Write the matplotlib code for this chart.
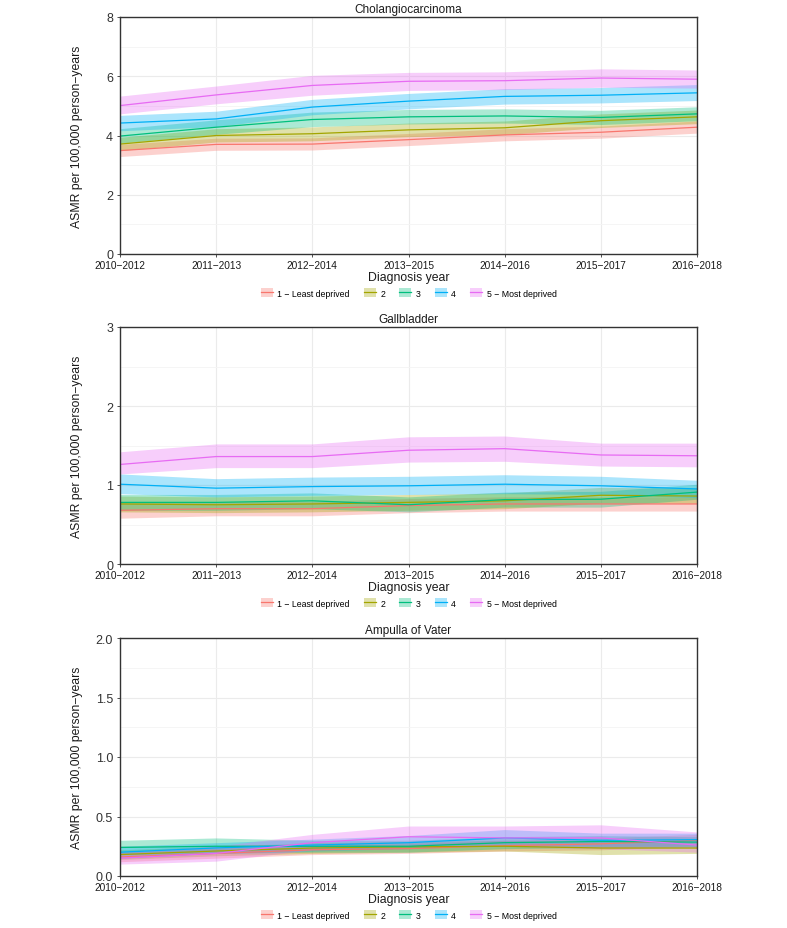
import matplotlib
matplotlib.use("Agg")
import matplotlib.pyplot as plt
from matplotlib.patches import Patch
from matplotlib.lines import Line2D
import numpy as np

plt.rcParams['font.family'] = ['Liberation Sans', 'DejaVu Sans']

periods = ["2010\u22122012", "2011\u22122013", "2012\u22122014", "2013\u22122015",
           "2014\u22122016", "2015\u22122017", "2016\u22122018"]
groups = ["1 \u2212 Least deprived", "2", "3", "4", "5 \u2212 Most deprived"]
colors = ["#F8766D", "#A3A500", "#00BF7D", "#00B0F6", "#E76BF3"]

# Cholangiocarcinoma
chol_mid = [
    [3.49, 3.70, 3.71, 3.86, 4.02, 4.11, 4.28],
    [3.71, 4.00, 4.06, 4.19, 4.26, 4.50, 4.63],
    [3.98, 4.28, 4.54, 4.63, 4.66, 4.61, 4.73],
    [4.42, 4.56, 4.96, 5.16, 5.32, 5.36, 5.44],
    [5.01, 5.37, 5.69, 5.83, 5.85, 5.94, 5.90],
]
chol_lo = [
    [3.29, 3.50, 3.51, 3.66, 3.82, 3.91, 4.08],
    [3.49, 3.78, 3.82, 3.96, 4.03, 4.27, 4.40],
    [3.74, 4.04, 4.30, 4.39, 4.42, 4.37, 4.50],
    [4.16, 4.30, 4.70, 4.90, 5.06, 5.10, 5.18],
    [4.73, 5.07, 5.36, 5.52, 5.55, 5.63, 5.60],
]
chol_hi = [
    [3.70, 3.91, 3.92, 4.07, 4.23, 4.32, 4.49],
    [3.94, 4.23, 4.29, 4.42, 4.49, 4.73, 4.86],
    [4.23, 4.53, 4.79, 4.88, 4.90, 4.85, 4.97],
    [4.68, 4.82, 5.22, 5.42, 5.58, 5.62, 5.72],
    [5.33, 5.67, 6.03, 6.13, 6.15, 6.25, 6.21],
]

# Gallbladder
gb_mid = [
    [0.68, 0.70, 0.70, 0.74, 0.76, 0.76, 0.76],
    [0.76, 0.75, 0.76, 0.78, 0.80, 0.87, 0.86],
    [0.78, 0.78, 0.80, 0.75, 0.815, 0.82, 0.91],
    [1.01, 0.96, 0.98, 0.99, 1.01, 0.99, 0.95],
    [1.26, 1.36, 1.36, 1.44, 1.46, 1.38, 1.37],
]
gb_lo = [
    [0.58, 0.61, 0.61, 0.65, 0.67, 0.67, 0.67],
    [0.66, 0.65, 0.66, 0.68, 0.70, 0.77, 0.77],
    [0.68, 0.68, 0.70, 0.66, 0.72, 0.72, 0.82],
    [0.89, 0.85, 0.87, 0.88, 0.89, 0.88, 0.84],
    [1.14, 1.22, 1.22, 1.29, 1.30, 1.24, 1.23],
]
gb_hi = [
    [0.78, 0.79, 0.79, 0.83, 0.85, 0.85, 0.85],
    [0.86, 0.85, 0.86, 0.88, 0.90, 0.97, 0.96],
    [0.88, 0.88, 0.90, 0.85, 0.91, 0.92, 1.01],
    [1.14, 1.08, 1.10, 1.11, 1.13, 1.11, 1.06],
    [1.42, 1.52, 1.52, 1.61, 1.62, 1.53, 1.53],
]

# Ampulla of Vater
av_mid = [
    [0.16, 0.19, 0.22, 0.23, 0.255, 0.27, 0.30],
    [0.18, 0.21, 0.235, 0.245, 0.25, 0.235, 0.235],
    [0.24, 0.25, 0.25, 0.25, 0.28, 0.29, 0.285],
    [0.20, 0.236, 0.26, 0.28, 0.32, 0.30, 0.305],
    [0.15, 0.19, 0.28, 0.33, 0.32, 0.32, 0.26],
]
av_lo = [
    [0.12, 0.15, 0.18, 0.19, 0.21, 0.22, 0.25],
    [0.14, 0.17, 0.19, 0.20, 0.21, 0.18, 0.19],
    [0.18, 0.19, 0.20, 0.20, 0.23, 0.24, 0.24],
    [0.15, 0.19, 0.21, 0.23, 0.26, 0.25, 0.25],
    [0.10, 0.125, 0.22, 0.25, 0.25, 0.23, 0.20],
]
av_hi = [
    [0.20, 0.23, 0.26, 0.27, 0.30, 0.32, 0.35],
    [0.22, 0.25, 0.28, 0.29, 0.30, 0.29, 0.29],
    [0.30, 0.32, 0.30, 0.30, 0.33, 0.34, 0.33],
    [0.25, 0.28, 0.31, 0.34, 0.39, 0.36, 0.36],
    [0.20, 0.25, 0.35, 0.42, 0.42, 0.43, 0.37],
]

panels = [
    ("Cholangiocarcinoma", chol_mid, chol_lo, chol_hi, 8, [0, 2, 4, 6, 8], ["0", "2", "4", "6", "8"], 1.0),
    ("Gallbladder", gb_mid, gb_lo, gb_hi, 3, [0, 1, 2, 3], ["0", "1", "2", "3"], 0.5),
    ("Ampulla of Vater", av_mid, av_lo, av_hi, 2, [0, 0.5, 1.0, 1.5, 2.0], ["0.0", "0.5", "1.0", "1.5", "2.0"], 0.25),
]

W, H = 787, 929
fig = plt.figure(figsize=(W / 100, H / 100), dpi=100)
left, right = 120 / W, 697 / W
tops = [18, 328, 639]
bots = [255, 565, 877]

x = np.arange(len(periods))
for i, (title, mid, lo, hi, ymax, yt, ytl, minor) in enumerate(panels):
    ax = fig.add_axes([left, 1 - bots[i] / H, right - left, (bots[i] - tops[i]) / H])
    ax.set_xlim(0, len(periods) - 1)
    ax.set_ylim(0, ymax)
    # grid
    for v in x:
        ax.axvline(v, color="#EBEBEB", lw=0.8, zorder=0)
    for v in yt:
        ax.axhline(v, color="#EBEBEB", lw=0.8, zorder=0)
    for v in np.arange(minor, ymax, minor * 2):
        ax.axhline(v, color="#F4F4F4", lw=0.6, zorder=0)
    for g in range(len(groups)):
        ax.fill_between(x, lo[g], hi[g], color=colors[g], alpha=0.33, lw=0, zorder=1)
    for g in range(len(groups)):
        ax.plot(x, mid[g], color=colors[g], lw=0.9, zorder=2)
    ax.set_xticks(x)
    ax.set_xticklabels(periods, fontsize=7.3, color="#1A1A1A")
    ax.set_yticks(yt)
    ax.set_yticklabels(ytl, fontsize=9, color="#333333")
    ax.tick_params(axis="x", length=2.5, width=0.6, color="#333333", pad=2)
    ax.tick_params(axis="y", length=2.5, width=0.6, color="#333333", pad=2.5)
    for s in ax.spines.values():
        s.set_color("#333333")
        s.set_linewidth(1.0)
    ax.set_title(title, fontsize=8.5, pad=3.5, color="#1A1A1A")
    ax.set_xlabel("Diagnosis year", fontsize=8.8, labelpad=0.5, color="#1A1A1A")
    ax.set_ylabel("ASMR per 100,000 person\u2212years", fontsize=8.8, color="#1A1A1A")
    ax.yaxis.set_label_coords(-0.064, 0.5)
    handles = [(Patch(facecolor=colors[g], alpha=0.33, edgecolor="none"),
                Line2D([], [], color=colors[g], lw=0.9)) for g in range(len(groups))]
    fig.legend(handles, groups, loc="center", bbox_to_anchor=((left + right) / 2, 1 - (bots[i] + 39) / H),
               ncol=5, frameon=False, fontsize=6.3, handlelength=1.4, handleheight=1.2,
               columnspacing=1.6, handletextpad=0.5)

fig.savefig("out.png", dpi=100)
